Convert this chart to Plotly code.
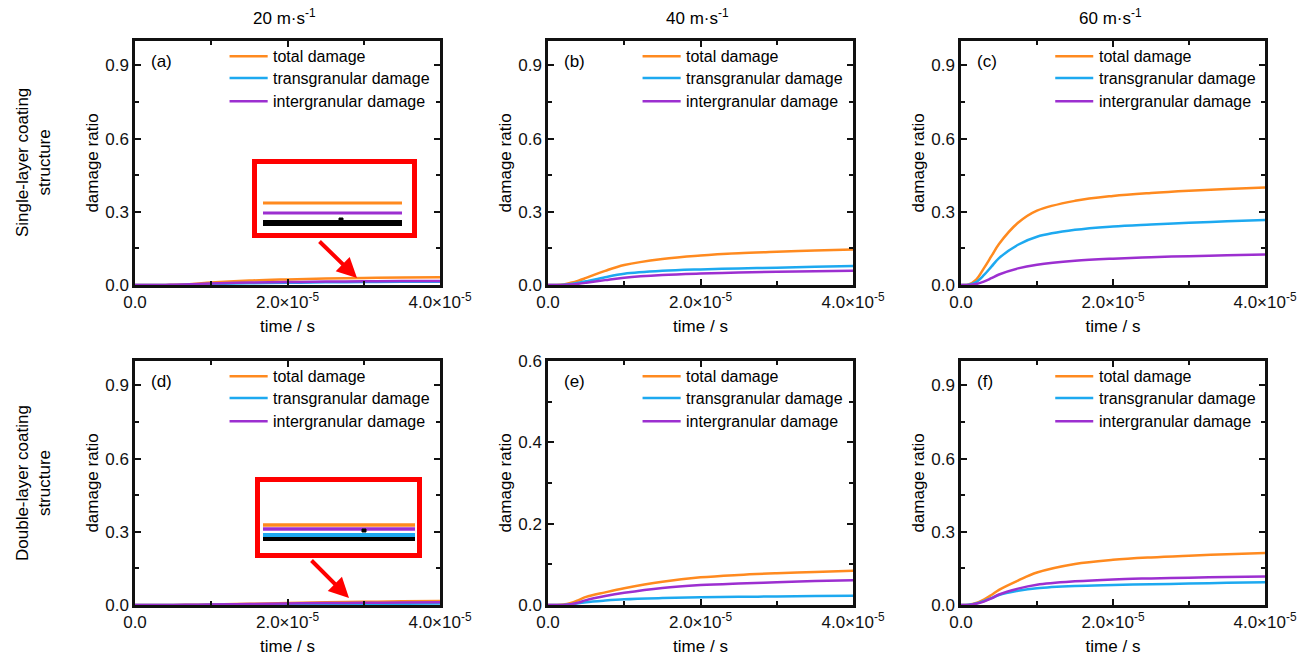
import plotly.graph_objects as go

FONT = "Liberation Sans, Arial, sans-serif"
FS = 17
FS_LEG = 16
W, H = 1308, 663

# ---------------- data ----------------
series_names = ["total damage", "transgranular damage", "intergranular damage"]
series_colors = ["#FF8A1F", "#1DA9F0", "#9C2FD0"]

time_1e5 = [0, 0.1, 0.2, 0.3, 0.4, 0.5, 0.75, 1.0, 1.5, 2.0, 2.5, 3.0, 3.5, 4.0]
time_s = [t * 1e-5 for t in time_1e5]

# (a) single layer, 20 m/s
a_total = [0, 0, 0, 0, 0, 0.001, 0.004, 0.010, 0.018, 0.023, 0.027, 0.029, 0.031, 0.032]
a_trans = [0, 0, 0, 0, 0, 0, 0.002, 0.004, 0.007, 0.009, 0.011, 0.012, 0.013, 0.013]
a_inter = [0, 0, 0, 0, 0, 0.001, 0.003, 0.006, 0.010, 0.012, 0.014, 0.015, 0.016, 0.016]
# (b) single layer, 40 m/s
b_total = [0, 0, 0.002, 0.009, 0.018, 0.029, 0.058, 0.082, 0.107, 0.121, 0.130, 0.136, 0.141, 0.145]
b_trans = [0, 0, 0.001, 0.004, 0.009, 0.015, 0.032, 0.046, 0.058, 0.064, 0.068, 0.071, 0.075, 0.078]
b_inter = [0, 0, 0, 0.002, 0.005, 0.009, 0.020, 0.030, 0.041, 0.047, 0.051, 0.054, 0.056, 0.058]
# (c) single layer, 60 m/s
c_total = [0, 0.002, 0.022, 0.068, 0.118, 0.168, 0.255, 0.305, 0.345, 0.365, 0.377, 0.386, 0.393, 0.400]
c_trans = [0, 0.001, 0.012, 0.040, 0.075, 0.110, 0.165, 0.198, 0.226, 0.240, 0.248, 0.255, 0.261, 0.266]
c_inter = [0, 0, 0.004, 0.014, 0.028, 0.043, 0.068, 0.083, 0.099, 0.108, 0.114, 0.118, 0.122, 0.125]
# (d) double layer, 20 m/s
d_total = [0, 0, 0, 0, 0, 0, 0.001, 0.002, 0.005, 0.008, 0.011, 0.013, 0.015, 0.016]
d_trans = [0, 0, 0, 0, 0, 0, 0, 0.001, 0.002, 0.003, 0.004, 0.005, 0.005, 0.006]
d_inter = [0, 0, 0, 0, 0, 0, 0.001, 0.002, 0.004, 0.006, 0.008, 0.009, 0.010, 0.011]
# (e) double layer, 40 m/s
e_total = [0, 0, 0.001, 0.005, 0.012, 0.020, 0.031, 0.041, 0.057, 0.068, 0.074, 0.078, 0.081, 0.084]
e_trans = [0, 0, 0, 0.002, 0.004, 0.007, 0.011, 0.014, 0.017, 0.019, 0.020, 0.021, 0.022, 0.023]
e_inter = [0, 0, 0, 0.002, 0.006, 0.012, 0.022, 0.030, 0.042, 0.049, 0.053, 0.056, 0.059, 0.061]
# (f) double layer, 60 m/s
f_total = [0, 0.001, 0.008, 0.022, 0.041, 0.062, 0.100, 0.133, 0.168, 0.185, 0.195, 0.202, 0.208, 0.213]
f_trans = [0, 0.001, 0.006, 0.016, 0.028, 0.041, 0.058, 0.069, 0.078, 0.082, 0.085, 0.088, 0.091, 0.093]
f_inter = [0, 0, 0.005, 0.014, 0.027, 0.043, 0.067, 0.083, 0.097, 0.105, 0.109, 0.112, 0.115, 0.117]

panels = [
    ("(a)", [a_total, a_trans, a_inter], 1.0, 0.3),
    ("(b)", [b_total, b_trans, b_inter], 1.0, 0.3),
    ("(c)", [c_total, c_trans, c_inter], 1.0, 0.3),
    ("(d)", [d_total, d_trans, d_inter], 1.0, 0.3),
    ("(e)", [e_total, e_trans, e_inter], 0.6, 0.2),
    ("(f)", [f_total, f_trans, f_inter], 1.0, 0.3),
]
col_titles = ["20 m·s<sup>-1</sup>", "40 m·s<sup>-1</sup>", "60 m·s<sup>-1</sup>"]
row_titles = ["Single-layer coating<br>structure", "Double-layer coating<br>structure"]
x_tickvals = [0, 2e-5, 4e-5]
x_ticktext = ["0.0", "2.0×10<sup>-5</sup>", "4.0×10<sup>-5</sup>"]

# ---------------- layout geometry ----------------
col_px = [(135, 440), (548, 853), (961, 1265)]
row_px = [(41, 285), (361, 605)]

def P(px):
    return px / W

def Q(py):
    return 1 - py / H

fig = go.Figure()
layout = dict(
    width=W, height=H, margin=dict(l=0, r=0, t=0, b=0, pad=0, autoexpand=False),
    paper_bgcolor="white", plot_bgcolor="white", showlegend=False,
    font=dict(family=FONT, size=FS, color="black"),
)
shapes, annotations = [], []

for i, (label, ys, ymax, ydt) in enumerate(panels):
    r, c = divmod(i, 3)
    n = "" if i == 0 else str(i + 1)
    xa, ya = "x" + n, "y" + n
    x0, x1 = col_px[c]
    ytop, ybot = row_px[r]
    for name, color, yv in zip(series_names, series_colors, ys):
        fig.add_trace(go.Scatter(
            x=time_s, y=yv, name=name, mode="lines",
            line=dict(color=color, width=2.5, shape="spline", smoothing=1.0),
            xaxis=xa, yaxis=ya, hoverinfo="skip"))
    axcommon = dict(
        showline=True, linewidth=2.5, linecolor="#111", mirror="allticks",
        ticks="inside", ticklen=6, tickwidth=2, tickcolor="#111",
        showgrid=False, zeroline=False, automargin=False,
        tickfont=dict(family=FONT, size=FS, color="#111"),
    )
    layout["xaxis" + n] = dict(
        axcommon, domain=[P(x0), P(x1)], anchor=ya, range=[0, 4e-5],
        tickvals=x_tickvals, ticktext=x_ticktext,
        minor=dict(ticks="inside", ticklen=4, tickwidth=1.5, tickcolor="#111", dtick=1e-5, tick0=0),
        title=dict(text="time / s", font=dict(family=FONT, size=FS), standoff=9),
    )
    layout["yaxis" + n] = dict(
        axcommon, domain=[Q(ybot), Q(ytop)], anchor=xa, range=[0, ymax],
        tick0=0, dtick=ydt, tickformat=".1f",
        minor=dict(ticks="inside", ticklen=4, tickwidth=1.5, tickcolor="#111", dtick=ydt / 2, tick0=0),
        title=dict(text="damage ratio", font=dict(family=FONT, size=FS), standoff=3),
    )
    # panel label
    annotations.append(dict(text=label, xref=xa + " domain", yref=ya + " domain",
                            x=0.045, y=0.918, xanchor="left", yanchor="middle",
                            showarrow=False, font=dict(family=FONT, size=FS)))
    # manual legend
    for k, (name, color) in enumerate(zip(series_names, series_colors)):
        yy = [0.938, 0.848, 0.753][k]
        shapes.append(dict(type="line", xref=xa + " domain", yref=ya + " domain",
                           x0=0.31, x1=0.435, y0=yy, y1=yy,
                           line=dict(color=color, width=2.5)))
        annotations.append(dict(text=name, xref=xa + " domain", yref=ya + " domain",
                                x=0.447, y=yy, xanchor="left", yanchor="middle",
                                showarrow=False, font=dict(family=FONT, size=FS_LEG)))

# column titles
for c, t in enumerate(col_titles):
    x0, x1 = col_px[c]
    annotations.append(dict(text=t, xref="paper", yref="paper", x=P((x0 + x1) / 2 - 3),
                            y=Q(17), xanchor="center", yanchor="middle",
                            showarrow=False, font=dict(family=FONT, size=FS)))
# row titles
for r, t in enumerate(row_titles):
    ytop, ybot = row_px[r]
    annotations.append(dict(text=t, xref="paper", yref="paper", x=P(33),
                            y=Q((ytop + ybot) / 2), xanchor="center", yanchor="middle",
                            textangle=-90, showarrow=False, font=dict(family=FONT, size=FS)))

# zoom insets (decorations)
def hline(xa_, xb_, y_, color, w):
    shapes.append(dict(type="line", xref="paper", yref="paper", x0=P(xa_), x1=P(xb_),
                       y0=Q(y_), y1=Q(y_), line=dict(color=color, width=w)))

def box(xa_, xb_, ya_, yb_, color, w, fill=None):
    shapes.append(dict(type="rect", xref="paper", yref="paper", x0=P(xa_), x1=P(xb_),
                       y0=Q(yb_), y1=Q(ya_), line=dict(color=color, width=w),
                       fillcolor=fill if fill else "rgba(0,0,0,0)"))

# inset (a)
box(254.5, 414.5, 161.5, 235.5, "#FF0000", 5, "white")
hline(263, 402, 203, series_colors[0], 3)
hline(263, 402, 213, series_colors[2], 3)
hline(263, 402, 223, "black", 6)
box(339, 343, 218, 221, "black", 1, "black")
annotations.append(dict(text="", xref="paper", yref="paper", x=P(357), y=Q(278),
                        ax=-39, ay=-38, showarrow=True, arrowhead=2, arrowsize=1.0,
                        arrowwidth=4, arrowcolor="#FF0000", standoff=0))
# inset (d)
box(257.5, 419.5, 479.5, 555.5, "#FF0000", 5, "white")
hline(263, 415, 525, series_colors[0], 3.5)
hline(263, 415, 529, series_colors[2], 3.5)
hline(263, 415, 535, series_colors[1], 4)
hline(263, 415, 539, "black", 4)
box(362, 366, 529, 532, "black", 1, "black")
annotations.append(dict(text="", xref="paper", yref="paper", x=P(349), y=Q(598),
                        ax=-39, ay=-39, showarrow=True, arrowhead=2, arrowsize=1.0,
                        arrowwidth=4, arrowcolor="#FF0000", standoff=0))

layout["shapes"] = shapes
layout["annotations"] = annotations
fig.update_layout(**layout)
fig.write_html("out.html")
